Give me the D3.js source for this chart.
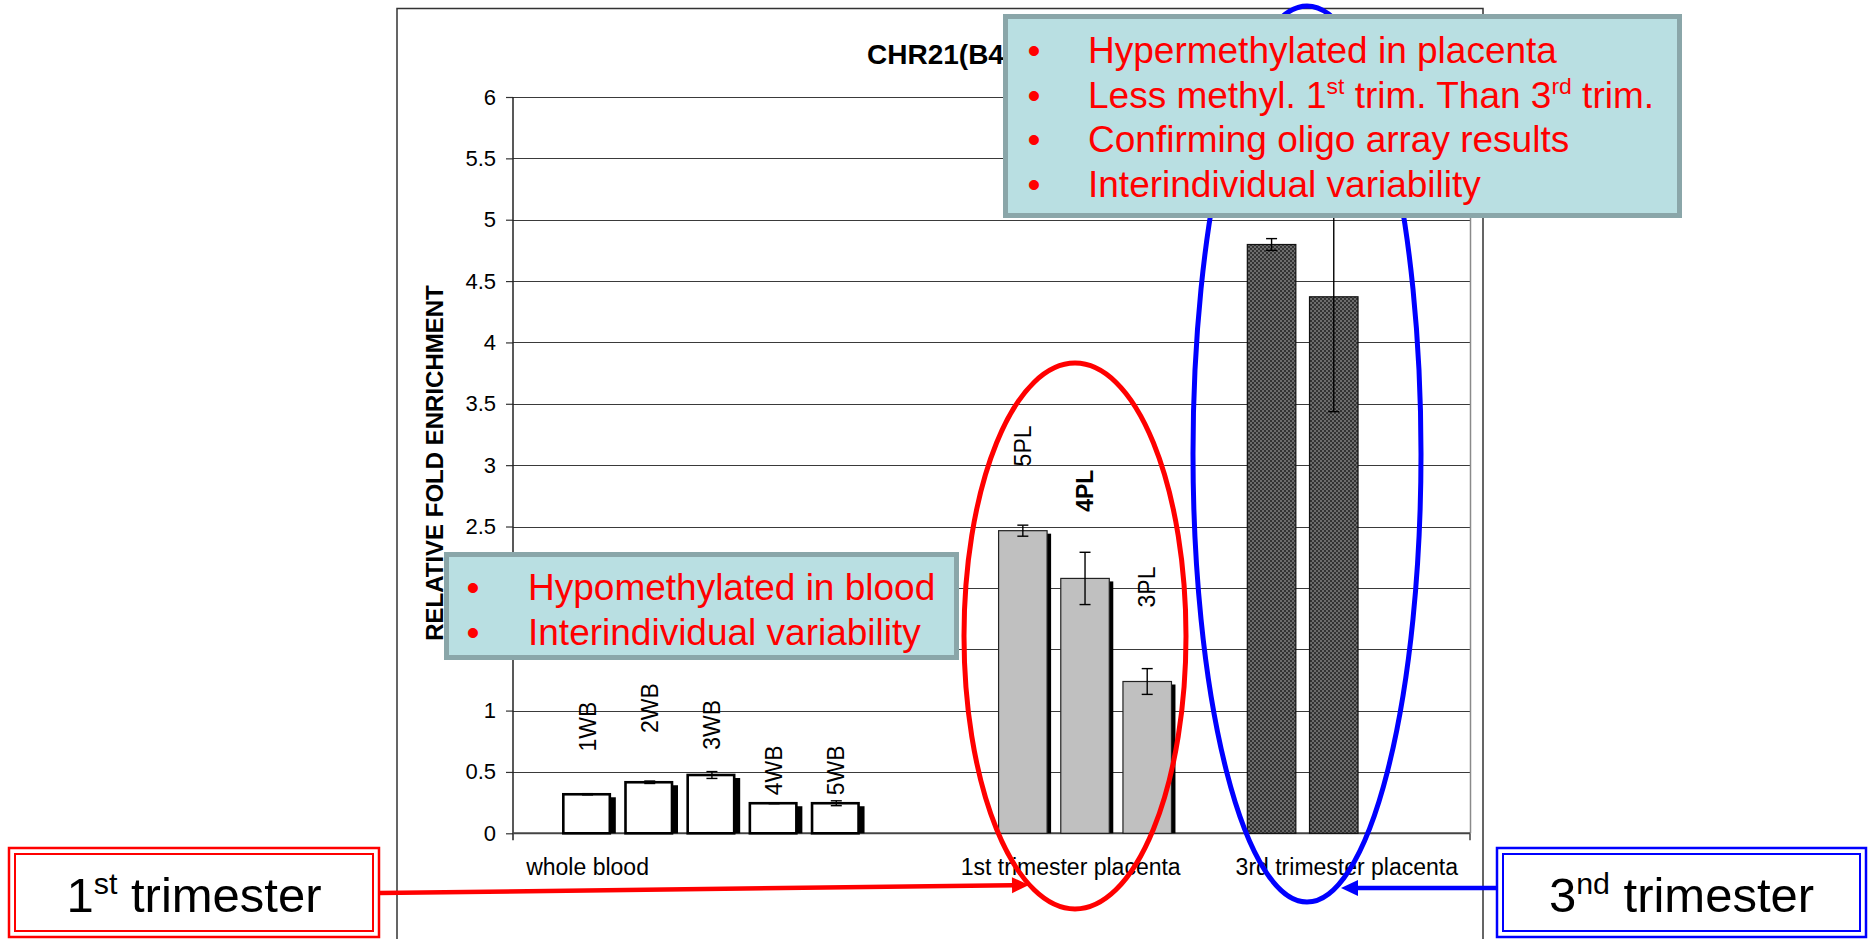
<!DOCTYPE html>
<html lang="en">
<head>
    <meta charset="UTF-8">
    <title>CHR21 relative fold enrichment</title>
    <script src="https://cdn.jsdelivr.net/npm/d3@7/dist/d3.min.js"></script>

    <style>
        body {
            margin: 0;
            background: #fff;
        }

        svg {
            display: block;
            font-family: 'Liberation Sans', Arial, sans-serif;
        }

        .grid {
            stroke: #3a3a3a;
            stroke-width: 1;
            shape-rendering: crispEdges;
        }
    </style>
</head>
<body>

<div id="chartArea"></div>

<script>
    'use strict';

    /*
     * Methylation enrichment of the CHR21(B4...) region, bars per sample,
     * with the two call-out boxes and the trimester rings drawn on top.
     */

    // Groups shown on the category axis.
    const groups = ['whole blood', '1st trimester placenta', '3rd trimester placenta'];
    // Empty slots left in front of each group.
    const groupGaps = [0, 2, 1];
    // The sample under which each group name is written, and a nudge in slots.
    const groupLabelAt = ['1WB', '4PL', '3T-b'];
    const groupLabelNudge = [0, -0.23, 0.21];

    const samples = ['1WB', '2WB', '3WB', '4WB', '5WB', '5PL', '4PL', '3PL', '3T-a', '3T-b'];
    const sampleGroup = [0, 0, 0, 0, 0, 1, 1, 1, 2, 2];
    const enrichment = [0.318, 0.416, 0.475, 0.245, 0.245, 2.466, 2.077, 1.237, 4.798, 4.372];
    const errors = [0.005, 0.01, 0.028, 0.004, 0.02, 0.045, 0.213, 0.105, 0.048, 0.936];
    // Where each vertical data label begins, in axis units (null: no label).
    const labelFrom = [0.666, 0.818, 0.68, 0.31, 0.31, 2.99, 2.62, 1.84, null, null];
    const boldLabels = ['4PL'];

    const yTicks = [0, 0.5, 1, 1.5, 2, 2.5, 3, 3.5, 4, 4.5, 5, 5.5, 6];

    // Call-out text: each line is a list of [text, isSuperscript].
    const placentaNotes = [
        [['Hypermethylated in placenta']],
        [['Less methyl. 1'], ['st', true], [' trim. Than 3'], ['rd', true], [' trim.']],
        [['Confirming oligo array results']],
        [['Interindividual variability']]
    ];
    const bloodNotes = [
        [['Hypomethylated in blood']],
        [['Interindividual variability']]
    ];

    const width = 1868;
    const height = 939;
    const plot = { left: 513, right: 1470, top: 97, bottom: 833.3 };

    const svg = d3.select('#chartArea').append('svg')
        .attr('width', width)
        .attr('height', height);

    // Dotted fill of the 3rd trimester bars.
    const pattern = svg.append('defs').append('pattern')
        .attr('id', 'dots')
        .attr('width', 4)
        .attr('height', 4)
        .attr('patternUnits', 'userSpaceOnUse');
    pattern.append('rect').attr('width', 4).attr('height', 4).attr('fill', '#333');
    pattern.append('circle').attr('cx', 1).attr('cy', 1).attr('r', 0.7).attr('fill', '#d4d4d4');
    pattern.append('circle').attr('cx', 3).attr('cy', 3).attr('r', 0.7).attr('fill', '#d4d4d4');

    // Slots along the x axis: the samples, with empty slots between groups.
    const slots = [];
    samples.forEach(function (s, i) {
        const g = sampleGroup[i];
        if (i === 0 || sampleGroup[i - 1] !== g) {
            for (let k = 0; k < groupGaps[g]; k++) {
                slots.push('gap-' + g + '-' + k);
            }
        }
        slots.push(s);
    });

    const x = d3.scaleBand()
        .domain(slots)
        .range([plot.left, plot.right])
        .paddingInner(0.22)
        .paddingOuter(1.305)
        .align(0.31);

    const y = d3.scaleLinear()
        .domain([0, 6])
        .range([plot.bottom, plot.top]);

    const bars = samples.map(function (s, i) {
        return {
            name: s,
            group: sampleGroup[i],
            value: enrichment[i],
            err: errors[i],
            labelFrom: labelFrom[i]
        };
    });

    // Chart frame.
    svg.append('rect')
        .attr('x', 397)
        .attr('y', 8.5)
        .attr('width', 1483 - 397)
        .attr('height', 1000)
        .attr('fill', '#fff')
        .attr('stroke', '#333')
        .attr('stroke-width', 1.5);

    const chart = svg.append('g');

    // Horizontal grid lines.
    chart.selectAll('line.grid')
        .data(yTicks.filter(function (t) { return t > 0; }))
        .enter().append('line')
        .attr('class', 'grid')
        .attr('x1', plot.left)
        .attr('x2', plot.right)
        .attr('y1', function (d) { return Math.round(y(d)) + 0.5; })
        .attr('y2', function (d) { return Math.round(y(d)) + 0.5; });

    // Right edge of the plot area.
    chart.append('line')
        .attr('x1', plot.right + 0.5).attr('x2', plot.right + 0.5)
        .attr('y1', y(6)).attr('y2', y(0))
        .attr('stroke', '#8a8a8a')
        .attr('stroke-width', 1.5);

    // Y axis.
    const yAxis = d3.axisLeft(y)
        .tickValues(yTicks)
        .tickSize(7)
        .tickPadding(10)
        .tickFormat(d3.format('~g'));

    const yAxisG = chart.append('g')
        .attr('transform', 'translate(' + plot.left + ',0)')
        .call(yAxis);
    yAxisG.select('.domain').remove();
    yAxisG.selectAll('line').attr('stroke', '#333').attr('stroke-width', 1.2);
    yAxisG.selectAll('text')
        .attr('font-size', 22)
        .attr('font-family', 'Liberation Sans, Arial, sans-serif')
        .attr('fill', '#000');

    chart.append('line')
        .attr('x1', plot.left).attr('x2', plot.left)
        .attr('y1', y(6)).attr('y2', y(0) + 7)
        .attr('stroke', '#222')
        .attr('stroke-width', 1.5);

    // X axis line with its end ticks.
    chart.append('line')
        .attr('x1', plot.left).attr('x2', plot.right)
        .attr('y1', y(0)).attr('y2', y(0))
        .attr('stroke', '#444')
        .attr('stroke-width', 2);
    chart.append('line')
        .attr('x1', plot.right).attr('x2', plot.right)
        .attr('y1', y(0)).attr('y2', y(0) + 7)
        .attr('stroke', '#444')
        .attr('stroke-width', 1.5);

    // Group names.
    chart.selectAll('text.group')
        .data(groups)
        .enter().append('text')
        .attr('class', 'group')
        .attr('x', function (d, i) {
            return x(groupLabelAt[i]) + x.bandwidth() / 2 + groupLabelNudge[i] * x.step();
        })
        .attr('y', y(0) + 42)
        .attr('text-anchor', 'middle')
        .attr('font-size', 23)
        .text(function (d) { return d; });

    // Title (mostly hidden behind the call-out box).
    chart.append('text')
        .attr('x', 867)
        .attr('y', 64)
        .attr('font-size', 28)
        .attr('font-weight', 'bold')
        .text('CHR21(B4)');

    chart.append('text')
        .attr('transform', 'translate(443,463) rotate(-90)')
        .attr('text-anchor', 'middle')
        .attr('font-size', 24)
        .attr('font-weight', 'bold')
        .text('RELATIVE FOLD ENRICHMENT');

    // Shadows behind the blood and 1st trimester bars.
    chart.selectAll('rect.shadow')
        .data(bars.filter(function (d) { return d.group < 2; }))
        .enter().append('rect')
        .attr('class', 'shadow')
        .attr('x', function (d) { return x(d.name) + 4; })
        .attr('y', function (d) { return y(d.value) + 3; })
        .attr('width', x.bandwidth())
        .attr('height', function (d) { return y(0) - y(d.value) - 3; })
        .attr('fill', '#000');

    const barFill = ['#fff', '#c0c0c0', 'url(#dots)'];
    const barStroke = ['#000', '#222', '#111'];
    const barStrokeWidth = [2.6, 1.2, 1.2];

    chart.selectAll('rect.bar')
        .data(bars)
        .enter().append('rect')
        .attr('class', 'bar')
        .attr('x', function (d) { return x(d.name); })
        .attr('y', function (d) { return y(d.value); })
        .attr('width', function (d) { return x.bandwidth() - (d.group === 0 ? 2 : 0); })
        .attr('height', function (d) { return y(0) - y(d.value); })
        .attr('fill', function (d) { return barFill[d.group]; })
        .attr('stroke', function (d) { return barStroke[d.group]; })
        .attr('stroke-width', function (d) { return barStrokeWidth[d.group]; });

    // Error bars.
    const errG = chart.selectAll('g.err')
        .data(bars)
        .enter().append('g')
        .attr('class', 'err')
        .attr('stroke', '#000')
        .attr('stroke-width', 1.4);
    const cx = function (d) { return x(d.name) + x.bandwidth() / 2; };
    errG.append('line')
        .attr('x1', cx).attr('x2', cx)
        .attr('y1', function (d) { return y(d.value + d.err); })
        .attr('y2', function (d) { return y(d.value - d.err); });
    errG.append('line')
        .attr('x1', function (d) { return cx(d) - 5.5; })
        .attr('x2', function (d) { return cx(d) + 5.5; })
        .attr('y1', function (d) { return y(d.value + d.err); })
        .attr('y2', function (d) { return y(d.value + d.err); });
    errG.append('line')
        .attr('x1', function (d) { return cx(d) - 5.5; })
        .attr('x2', function (d) { return cx(d) + 5.5; })
        .attr('y1', function (d) { return y(d.value - d.err); })
        .attr('y2', function (d) { return y(d.value - d.err); });

    // Vertical sample labels.
    chart.selectAll('text.sample')
        .data(bars.filter(function (d) { return d.labelFrom !== null; }))
        .enter().append('text')
        .attr('class', 'sample')
        .attr('transform', function (d) {
            return 'translate(' + (cx(d) + 8) + ',' + y(d.labelFrom) + ') rotate(-90)';
        })
        .attr('font-size', 23)
        .attr('font-weight', function (d) { return boldLabels.indexOf(d.name) >= 0 ? 'bold' : 'normal'; })
        .text(function (d) { return d.name; });

    // Rings around the two placenta groups.
    const overlay = svg.append('g').attr('fill', 'none').attr('stroke-width', 5);
    overlay.append('ellipse')
        .attr('cx', 1075).attr('cy', 636).attr('rx', 111).attr('ry', 273)
        .attr('stroke', '#ff0000');
    overlay.append('ellipse')
        .attr('cx', 1307).attr('cy', 454).attr('rx', 114).attr('ry', 448)
        .attr('stroke', '#0000ff');

    function arrow(x1, y1, x2, y2, color) {
        const len = Math.hypot(x2 - x1, y2 - y1);
        const ux = (x2 - x1) / len;
        const uy = (y2 - y1) / len;
        const head = 17;
        const half = 8;
        const bx = x2 - ux * head;
        const by = y2 - uy * head;
        svg.append('line')
            .attr('x1', x1).attr('y1', y1)
            .attr('x2', bx).attr('y2', by)
            .attr('stroke', color)
            .attr('stroke-width', 4.5);
        svg.append('path')
            .attr('d', d3.line()([
                [x2, y2],
                [bx - uy * half, by + ux * half],
                [bx + uy * half, by - ux * half]
            ]) + 'Z')
            .attr('fill', color);
    }

    arrow(379, 893, 1029, 885, '#ff0000');
    arrow(1497, 888, 1341, 888, '#0000ff');

    // Writes lines of text, raising superscript pieces.
    function writeLines(g, lines, opts) {
        lines.forEach(function (line, i) {
            const yy = opts.y0 + i * opts.lineGap;
            if (opts.bulletX) {
                g.append('text')
                    .attr('x', opts.bulletX)
                    .attr('y', yy)
                    .attr('text-anchor', 'middle')
                    .attr('font-size', opts.size)
                    .attr('fill', opts.color)
                    .text('\u2022');
            }
            const t = g.append('text')
                .attr('x', opts.x)
                .attr('y', yy)
                .attr('text-anchor', opts.anchor || 'start')
                .attr('font-size', opts.size)
                .attr('fill', opts.color);
            let raised = false;
            line.forEach(function (piece) {
                const sup = !!piece[1];
                const span = t.append('tspan').text(piece[0]);
                if (sup) {
                    span.attr('font-size', opts.size * 0.62).attr('dy', -opts.size * 0.36);
                    raised = true;
                } else if (raised) {
                    span.attr('dy', opts.size * 0.36);
                    raised = false;
                }
            });
        });
    }

    function noteBox(x0, y0, x1, y1, lines, opts) {
        const g = svg.append('g');
        g.append('rect')
            .attr('x', x0 + 2.5).attr('y', y0 + 2.5)
            .attr('width', x1 - x0 - 5).attr('height', y1 - y0 - 5)
            .attr('fill', '#b9dfe2')
            .attr('stroke', '#8aa6a9')
            .attr('stroke-width', 5);
        writeLines(g, lines, opts);
    }

    noteBox(1003, 14, 1682, 218, placentaNotes, {
        x: 1088, bulletX: 1034, y0: 63, lineGap: 44.6, size: 37, color: '#ff0000'
    });
    noteBox(444, 552, 959, 660, bloodNotes, {
        x: 528, bulletX: 473, y0: 600, lineGap: 45, size: 37, color: '#ff0000'
    });

    // Trimester tags with a double border.
    function tag(x0, y0, x1, y1, color, lines) {
        const g = svg.append('g');
        g.append('rect')
            .attr('x', x0).attr('y', y0)
            .attr('width', x1 - x0).attr('height', y1 - y0)
            .attr('fill', '#fff')
            .attr('stroke', color)
            .attr('stroke-width', 2.5);
        g.append('rect')
            .attr('x', x0 + 6).attr('y', y0 + 6)
            .attr('width', x1 - x0 - 12).attr('height', y1 - y0 - 12)
            .attr('fill', 'none')
            .attr('stroke', color)
            .attr('stroke-width', 2);
        writeLines(g, lines, {
            x: (x0 + x1) / 2, anchor: 'middle', y0: 912, lineGap: 0, size: 49, color: '#000'
        });
    }

    tag(9, 848, 379, 937, '#ff0000', [[['1'], ['st', true], [' trimester']]]);
    tag(1497, 848, 1866, 937, '#0000ff', [[['3'], ['nd', true], [' trimester']]]);
</script>

</body>
</html>
